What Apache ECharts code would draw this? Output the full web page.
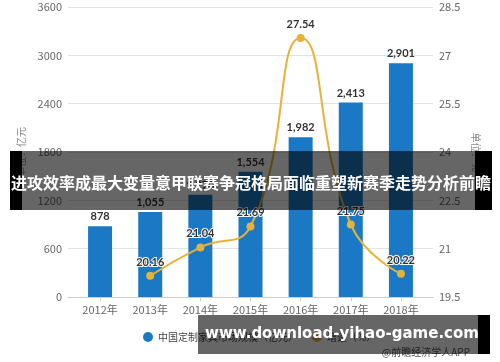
<!DOCTYPE html>
<html>
<head>
<meta charset="utf-8">
<script src="https://cdn.jsdelivr.net/npm/echarts@6/dist/echarts.min.js"></script>
<style>
html,body{margin:0;padding:0;background:#fff;}
#c{width:500px;height:362px;}
</style>
</head>
<body>
<div id="c"></div>
<script>
var categories = ['2012年','2013年','2014年','2015年','2016年','2017年','2018年'];
var marketSize = [878, 1055, 1270, 1554, 1982, 2413, 2901];
var growthRate = [null, 20.16, 21.04, 21.69, 27.54, 21.75, 20.22];
var leftTicks = {min: 0, max: 3600, interval: 600};
var rightTicks = {min: 19.5, max: 28.5, interval: 1.5};
var seriesNames = ['中国定制家具市场规模（亿元）', '增速（%）'];
var bannerTitle = '进攻效率成最大变量意甲联赛争冠格局面临重塑新赛季走势分析前瞻';
var bannerUrl = 'www.download-yihao-game.com';
var sourceText = '@前瞻经济学人APP';

var FONT = '"Noto Sans CJK SC", "Microsoft YaHei", sans-serif';
var chart = echarts.init(document.getElementById('c'));
var labelStyle = {color: '#666', fontSize: 11, fontFamily: FONT};

chart.setOption({
  animation: false,
  textStyle: {fontFamily: FONT},
  grid: [
    {left: 68, right: 67, top: 7, bottom: 65},
    {left: 75, right: 74, top: 7, bottom: 65}
  ],
  legend: {
    left: 138, top: 327,
    itemWidth: 10, itemHeight: 10, itemGap: 14,
    icon: 'circle',
    textStyle: {color: '#444', fontSize: 10, fontFamily: FONT},
    data: seriesNames
  },
  xAxis: [
    {gridIndex: 0, type: 'category', data: categories,
     axisLine: {lineStyle: {color: '#ccc'}}, axisTick: {show: false}, axisLabel: {show: false}},
    {gridIndex: 1, type: 'category', data: categories,
     axisLine: {show: false},
     axisTick: {show: true, alignWithLabel: true, length: 4, lineStyle: {color: '#ccc'}},
     axisLabel: Object.assign({margin: 7}, labelStyle)}
  ],
  yAxis: [
    {gridIndex: 0, type: 'value', min: leftTicks.min, max: leftTicks.max, interval: leftTicks.interval,
     position: 'left',
     name: '单位：亿元', nameLocation: 'middle', nameGap: 30, nameRotate: 90,
     nameTextStyle: {color: '#888', fontSize: 10, fontFamily: FONT},
     axisLine: {show: false}, axisTick: {show: false},
     axisLabel: Object.assign({margin: 6, formatter: function(v){ return String(v); }}, labelStyle),
     splitLine: {lineStyle: {color: '#e3e3e3'}}},
    {gridIndex: 0, type: 'value', min: rightTicks.min, max: rightTicks.max, interval: rightTicks.interval,
     position: 'right',
     name: '单位：%', nameLocation: 'middle', nameGap: 29, nameRotate: -90,
     nameTextStyle: {color: '#888', fontSize: 10, fontFamily: FONT},
     axisLine: {show: false}, axisTick: {show: false},
     axisLabel: Object.assign({margin: 6, formatter: function(v){ return String(v); }}, labelStyle),
     splitLine: {show: false}},
    {gridIndex: 1, type: 'value', min: leftTicks.min, max: leftTicks.max, interval: leftTicks.interval,
     show: false},
    {gridIndex: 1, type: 'value', min: rightTicks.min, max: rightTicks.max, interval: rightTicks.interval,
     show: false}
  ],
  series: [
    {name: seriesNames[0], type: 'bar', xAxisIndex: 1, yAxisIndex: 2,
     data: marketSize, barWidth: 24,
     itemStyle: {color: '#1a78c4'},
     label: {show: true, position: 'top', distance: 4, color: '#333', fontWeight: 'bold', fontSize: 11,
             fontFamily: 'Lato, sans-serif',
             formatter: function(p){ return p.value.toLocaleString('en-US'); }}},
    {name: seriesNames[1], type: 'line', xAxisIndex: 1, yAxisIndex: 3,
     data: growthRate, smooth: true,
     symbol: 'circle', symbolSize: 8,
     lineStyle: {color: '#e6b23a', width: 2},
     itemStyle: {color: '#e6b23a'},
     label: {show: true, position: 'top', distance: 4, color: '#333', fontWeight: 'bold', fontSize: 11,
             fontFamily: 'Lato, sans-serif',
             textBorderColor: '#fff', textBorderWidth: 2,
             formatter: function(p){ return p.value.toFixed(2); }}}
  ],
  graphic: [
    {type: 'rect', z: 100, shape: {x: 22, y: 151, width: 453, height: 59}, style: {fill: 'rgba(0,0,0,0.6)'}},
    {type: 'rect', z: 100, shape: {x: 10, y: 151, width: 12, height: 59}, style: {fill: '#000'}},
    {type: 'rect', z: 100, shape: {x: 475, y: 151, width: 17, height: 59}, style: {fill: '#000'}},
    {type: 'text', z: 101, x: 251, y: 183,
     style: {text: bannerTitle, fill: '#fff', font: 'bold 16px "Noto Sans CJK SC", sans-serif',
             textAlign: 'center', textVerticalAlign: 'middle'}},
    {type: 'text', z: 90, x: 470, y: 352,
     style: {text: sourceText, fill: '#555', font: '10px "Noto Sans CJK SC", sans-serif',
             textAlign: 'right', textVerticalAlign: 'middle'}},
    {type: 'rect', z: 100, shape: {x: 198, y: 315, width: 280, height: 39}, style: {fill: 'rgba(0,0,0,0.6)'}},
    {type: 'rect', z: 100, shape: {x: 478, y: 315, width: 12, height: 39}, style: {fill: '#000'}},
    {type: 'text', z: 101, x: 342, y: 334,
     style: {text: bannerUrl, fill: '#fff', font: 'bold 15px "DejaVu Sans", sans-serif',
             textAlign: 'center', textVerticalAlign: 'middle'}}
  ]
});
</script>
</body>
</html>
